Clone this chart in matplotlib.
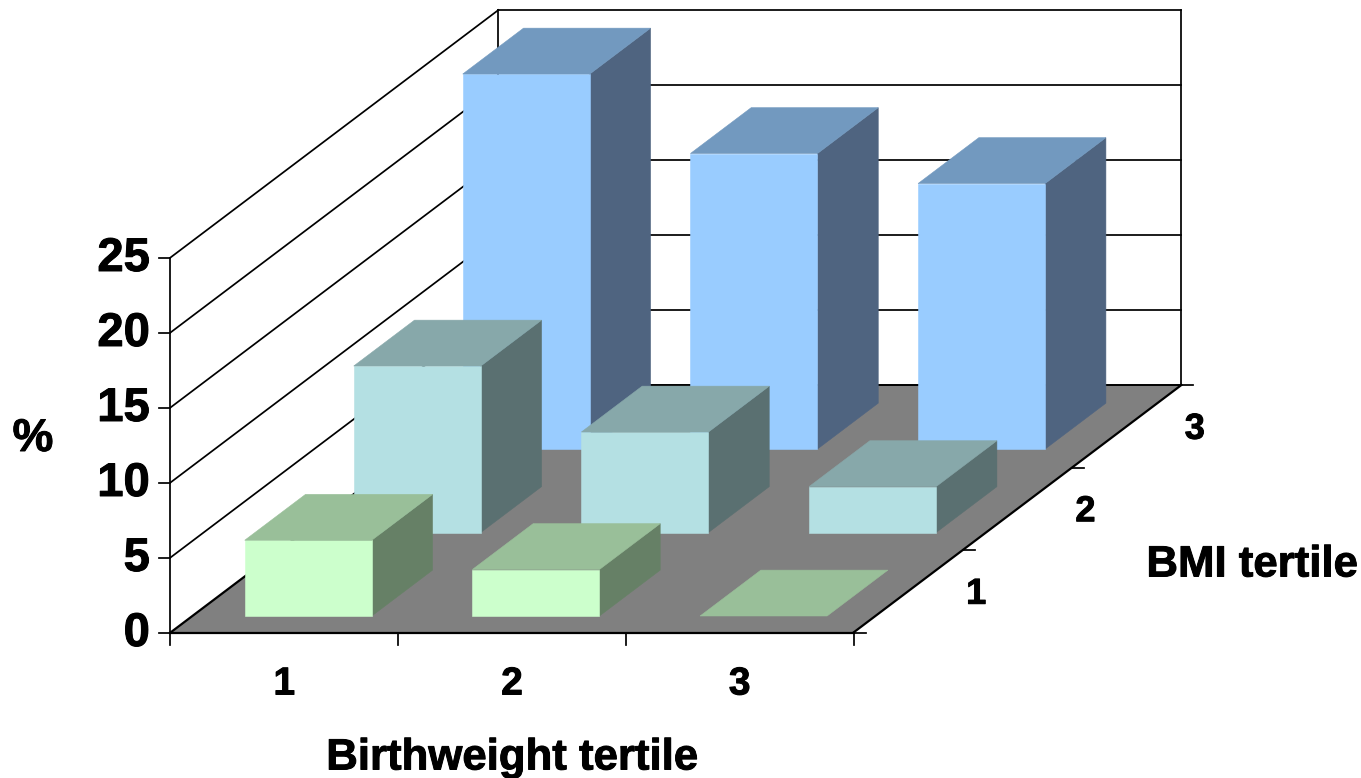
import matplotlib
matplotlib.use("Agg")
import matplotlib.pyplot as plt
from matplotlib.patches import Polygon
import matplotlib.patheffects as pe

plt.rcParams['font.family'] = ['Liberation Sans', 'DejaVu Sans']

birthweight_labels = ['1', '2', '3']
bmi_labels = ['1', '2', '3']
y_ticks = [0, 5, 10, 15, 20, 25]
# values[bmi tertile][birthweight tertile], in %
bmi1_values = [5.05, 3.1, 0.0]
bmi2_values = [11.1, 6.7, 3.06]
bmi3_values = [25.0, 19.7, 17.7]
all_values = [bmi1_values, bmi2_values, bmi3_values]

front_colors = ['#CCFFCC', '#B4E0E3', '#99CCFF']
top_colors = ['#99BF99', '#87A8AA', '#7299BF']
side_colors = ['#668066', '#5A7071', '#4F6480']
FLOOR = '#808080'

# oblique projection: (category, depth, value) -> figure pixels
ORIGIN_X, ORIGIN_Y = 170.5, 632.5
CAT_W = 227.67
DEPTH_DX, DEPTH_DY = 109.3, 82.5
UNIT_H = 15.0


def proj(c, d, v=0.0):
    return (ORIGIN_X + c * CAT_W + d * DEPTH_DX,
            ORIGIN_Y - d * DEPTH_DY - v * UNIT_H)


fig = plt.figure(figsize=(13.61, 7.78), dpi=100, facecolor='white')
ax = fig.add_axes([0, 0, 1, 1])
ax.set_xlim(0, 1361)
ax.set_ylim(778, 0)
ax.axis('off')

LW = 1.25
ncat, ndep, vmax = len(birthweight_labels), len(bmi_labels), y_ticks[-1]
BOLD = [pe.withStroke(linewidth=0.7, foreground='black')]


def line(p, q, lw=LW, z=2):
    ax.plot([p[0], q[0]], [p[1], q[1]], color='black', lw=lw, zorder=z,
            solid_capstyle='projecting')


def label(x, y, s, size):
    ax.text(x, y, s, ha='center', va='center', fontsize=size, fontweight='bold',
            zorder=5, path_effects=BOLD)


# walls and gridlines
for v in y_ticks:
    if v > 0:
        line(proj(0, 0, v), proj(0, ndep, v))
        line(proj(0, ndep, v), proj(ncat, ndep, v))
    p = proj(0, 0, v)
    line((p[0] - 11, p[1]), p)
    ax.text(150, p[1] + 1.5, str(v), ha='right', va='center', fontsize=34,
            fontweight='bold', zorder=5, path_effects=BOLD)
line(proj(0, 0, 0), proj(0, 0, vmax))
line(proj(0, ndep, 0), proj(0, ndep, vmax))
line(proj(ncat, ndep, 0), proj(ncat, ndep, vmax))

# floor
ax.add_patch(Polygon([proj(0, 0), proj(ncat, 0), proj(ncat, ndep), proj(0, ndep)],
                     closed=True, facecolor=FLOOR, edgecolor='none', zorder=1))
line(proj(0, 0), proj(ncat, 0), lw=1.6, z=3)
line(proj(0, 0), proj(0, ndep), lw=1.6, z=3)
line(proj(ncat, 0), proj(ncat, ndep), lw=1.6, z=3)
line(proj(0, ndep), proj(ncat, ndep), lw=1.4, z=1.5)

# bars, back row first
INSET, BAR_W = 0.23, 0.558
INSET_SHIFT = 0.007
D_START, D_PITCH, D_SIZE = 0.2, 1.012, 0.556
z = 10
for j in reversed(range(ndep)):
    for i, val in enumerate(all_values[j]):
        c0 = i + INSET - j * INSET_SHIFT
        c1 = c0 + BAR_W
        d0 = D_START + j * D_PITCH
        d1 = d0 + D_SIZE
        faces = []
        if val > 0:
            faces.append(([proj(c1, d0, 0), proj(c1, d1, 0), proj(c1, d1, val), proj(c1, d0, val)], side_colors[j]))
            faces.append(([proj(c0, d0, 0), proj(c1, d0, 0), proj(c1, d0, val), proj(c0, d0, val)], front_colors[j]))
        faces.append(([proj(c0, d0, val), proj(c1, d0, val), proj(c1, d1, val), proj(c0, d1, val)], top_colors[j]))
        for pts, col in faces:
            ax.add_patch(Polygon(pts, closed=True, facecolor=col, edgecolor=col,
                                 lw=0.4, zorder=z))
        z += 1

# category ticks and labels
for i in range(ncat + 1):
    p = proj(i, 0)
    line(p, (p[0], p[1] + 12), z=3)
for i, lab in enumerate(birthweight_labels):
    p = proj(i + 0.5, 0)
    label(p[0], p[1] + 52, lab, 28)

# depth ticks and labels
for j in range(ndep + 1):
    p = proj(ncat, j)
    line(p, (p[0] + 12, p[1]), z=3)
for j, lab in enumerate(bmi_labels):
    p = proj(ncat, j + 0.5)
    label(p[0] + 68, p[1] + 3, lab, 26)

label(33, 439, '%', 33)
label(1252, 565, 'BMI tertile', 31.5)
label(512, 758, 'Birthweight tertile', 31.5)

fig.savefig('out.png', dpi=100, facecolor='white')
